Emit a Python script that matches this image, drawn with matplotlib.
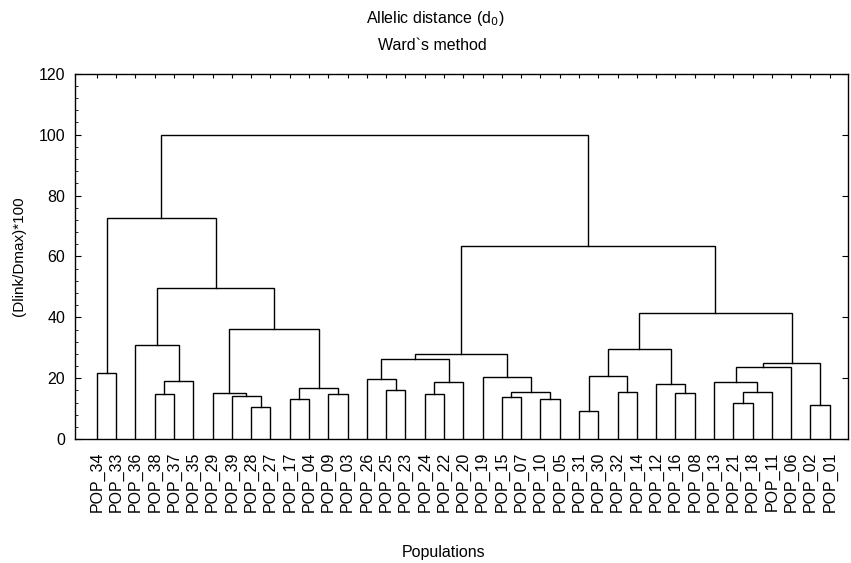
import matplotlib
matplotlib.use("Agg")
import matplotlib.pyplot as plt
from matplotlib.ticker import MultipleLocator

plt.rcParams['font.family'] = ['Liberation Sans', 'DejaVu Sans']

# leaf order along the x axis
labels = ['POP_34', 'POP_33', 'POP_36', 'POP_38', 'POP_37', 'POP_35', 'POP_29',
          'POP_39', 'POP_28', 'POP_27', 'POP_17', 'POP_04', 'POP_09', 'POP_03',
          'POP_26', 'POP_25', 'POP_23', 'POP_24', 'POP_22', 'POP_20', 'POP_19',
          'POP_15', 'POP_07', 'POP_10', 'POP_05', 'POP_31', 'POP_30', 'POP_32',
          'POP_14', 'POP_12', 'POP_16', 'POP_08', 'POP_13', 'POP_21', 'POP_18',
          'POP_11', 'POP_06', 'POP_02', 'POP_01']

# merges: left child, right child, linkage distance  (nK = K-th merge)
merge_left = ['POP_34', 'POP_38', 'n1', 'POP_36', 'POP_28', 'POP_39', 'POP_29',
              'POP_17', 'POP_09', 'n7', 'n6', 'n3', 'n0',
              'POP_25', 'POP_26', 'POP_24', 'n15', 'n14', 'POP_15', 'POP_10',
              'n18', 'POP_19', 'n17',
              'POP_31', 'POP_32', 'n23', 'POP_16', 'POP_12', 'n25', 'POP_21',
              'n29', 'POP_13', 'n31', 'POP_02', 'n32', 'n28', 'n22', 'n12']
merge_right = ['POP_33', 'POP_37', 'POP_35', 'n2', 'POP_27', 'n4', 'n5',
               'POP_04', 'POP_03', 'n8', 'n9', 'n10', 'n11',
               'POP_23', 'n13', 'POP_22', 'POP_20', 'n16', 'POP_07', 'POP_05',
               'n19', 'n20', 'n21',
               'POP_30', 'POP_14', 'n24', 'POP_08', 'n26', 'n27', 'POP_18',
               'POP_11', 'n30', 'POP_06', 'POP_01', 'n33', 'n34', 'n35', 'n36']
merge_height = [21.8, 14.7, 19.2, 30.9, 10.6, 14.1, 15.2,
                13.2, 14.7, 16.7, 36.1, 49.6, 72.6,
                16.3, 19.6, 14.7, 18.8, 26.3, 13.7, 13.2,
                15.4, 20.5, 27.9,
                9.3, 15.6, 20.7, 15.0, 18.0, 29.5, 11.9,
                15.4, 18.8, 23.6, 11.1, 25.1, 41.5, 63.5, 100.0]

fig = plt.figure(figsize=(8.51, 5.63), dpi=100)
ax = fig.add_axes([0.088, 0.22, 0.9085, 0.649])

pos = {lab: (i, 0.0) for i, lab in enumerate(labels)}
for k, (a, b, h) in enumerate(zip(merge_left, merge_right, merge_height)):
    xa, ya = pos[a]
    xb, yb = pos[b]
    ax.plot([xa, xa, xb, xb], [ya, h, h, yb], color='black', lw=1.0,
            solid_joinstyle='miter')
    pos['n%d' % k] = ((xa + xb) / 2, h)

ax.set_xlim(-1.14, 38.95)
ax.set_ylim(0, 120)
ax.set_xticks(range(len(labels)))
ax.set_xticklabels(labels, rotation=90, fontsize=11.5)
ax.yaxis.set_major_locator(MultipleLocator(20))
ax.yaxis.set_minor_locator(MultipleLocator(4))
ax.tick_params(axis='x', bottom=False, top=True, direction='in', length=3,
               pad=9)
ax.tick_params(axis='y', which='major', left=True, right=True, direction='in',
               length=4, labelsize=11.5, pad=7)
ax.tick_params(axis='y', which='minor', left=True, right=False,
               direction='in', length=2)
for s in ax.spines.values():
    s.set_linewidth(1.0)

ax.set_ylabel('(Dlink/Dmax)*100', fontsize=11, labelpad=9)
fig.text(435 / 851, 1 - 18 / 563, 'Allelic distance (d$_0$)', ha='center',
         va='center', fontsize=11.5)
fig.text(432 / 851, 1 - 45 / 563, 'Ward`s method', ha='center', va='center',
         fontsize=11.5)
fig.text(444 / 851, 1 - 552 / 563, 'Populations', ha='center', va='center',
         fontsize=11.5)

fig.savefig('out.png', dpi=100)
